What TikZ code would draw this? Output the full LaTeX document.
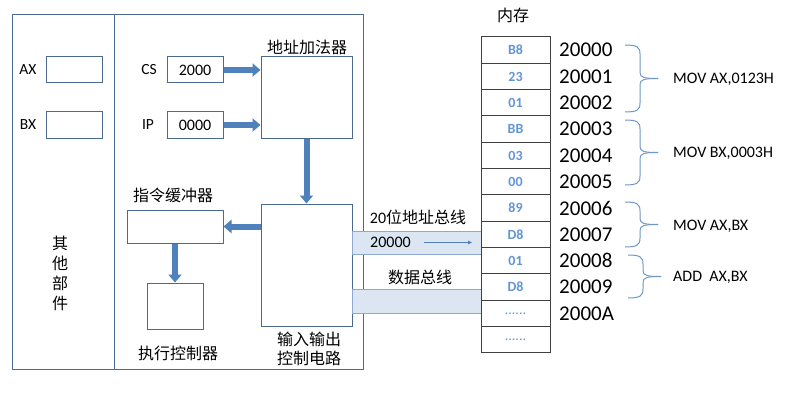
\documentclass[tikz,border=0pt]{standalone}
\usepackage{fontspec}
\setmainfont{Carlito}
\newfontfamily\cjk{Noto Sans CJK SC}
\usetikzlibrary{arrows.meta}
\definecolor{boxc}{HTML}{4A6A90}
\definecolor{arrc}{HTML}{4F81BD}
\definecolor{bandf}{HTML}{DCE6F2}
\definecolor{bandd}{HTML}{8EAAD0}
\definecolor{cellt}{HTML}{6396D6}
\definecolor{brcc}{HTML}{6F98C8}
\newcommand\celldots{{\mdseries\fontsize{14}{16}\selectfont......}}
\newcommand\mybrace[3]{%
  \pgfmathsetmacro\BrMid{(#2+#3)/2}%
  \draw[brc] (#1,#2) .. controls ({#1+12},#2) and ({#1+15},{#2+2}) .. ({#1+15},{#2+9})
     -- ({#1+15},{\BrMid-6}) .. controls ({#1+15},{\BrMid-1}) and ({#1+19},\BrMid) .. ({#1+33},\BrMid);
  \draw[brc] (#1,#3) .. controls ({#1+12},#3) and ({#1+15},{#3-2}) .. ({#1+15},{#3-9})
     -- ({#1+15},{\BrMid+6}) .. controls ({#1+15},{\BrMid+1}) and ({#1+19},\BrMid) .. ({#1+33},\BrMid);
}
\begin{document}
\begin{tikzpicture}[x=1pt,y=-1pt,
  box/.style={draw=boxc,line width=1pt,fill=white,inner sep=0pt},
  reg/.style={box,minimum width=56pt,minimum height=26pt,font=\fontsize{16}{19}\selectfont},
  lbl/.style={inner sep=0pt,font=\fontsize{15.5}{18}\selectfont},
  zh/.style={inner sep=0pt,font=\fontsize{16}{19}\cjk},
  bigarrow/.style={draw=arrc,line width=6pt,-{Triangle[length=8pt,width=13pt]}},
  band/.style={draw=bandd,fill=bandf,line width=0.8pt,inner sep=0pt},
  cell/.style={draw=black!75,line width=1pt,minimum width=69pt,minimum height=26.33pt,inner sep=0pt,text=cellt,font=\fontsize{14}{16}\selectfont\bfseries},
  addr/.style={inner sep=0pt,anchor=west,font=\fontsize{21}{24}\selectfont},
  ins/.style={inner sep=0pt,anchor=west,font=\fontsize{16}{19}\selectfont},
  brc/.style={draw=brcc,line width=1pt}]
\useasboundingbox (0,0) rectangle (805,401);
\fill[white] (0,0) rectangle (805,401);
% outer frame
\draw[boxc,line width=1pt] (12,15) rectangle (363,369);
\draw[boxc,line width=1pt] (114,15) -- (114,369);
% other parts
\node[lbl] (axl) at (28,70) {AX};
\node[reg] (ax) at (74,70) {};
\node[lbl] (bxl) at (28,125) {BX};
\node[reg] (bx) at (74,125) {};
\node[zh,align=center,font=\fontsize{16}{20}\cjk] (other) at (60,273) {其\\他\\部\\件};
% CS / IP
\node[lbl] (csl) at (149,70) {CS};
\node[reg] (cs) at (195,70) {2000};
\node[lbl] (ipl) at (148,125) {IP};
\node[reg] (ip) at (195,125) {0000};
% adder
\node[zh] (adderl) at (307,47) {地址加法器};
\node[box,minimum width=91pt,minimum height=81pt] (adder) at (306.5,97.5) {};
% IO
\node[box,minimum width=91pt,minimum height=122pt] (io) at (306.5,265) {};
\node[zh,align=center,font=\fontsize{16}{18.5}\cjk] (iol) at (309,349) {输入输出\\控制电路};
% buffer
\node[zh] (bufl) at (173,195) {指令缓冲器};
\node[box,minimum width=96pt,minimum height=33pt] (buf) at (175,226.5) {};
% exec
\node[box,minimum width=56pt,minimum height=46pt] (exec) at (175,306) {};
\node[zh] (execl) at (178,353) {执行控制器};
% thick arrows
\draw[bigarrow] (cs.east) -- (adder.west |- cs.east);
\draw[bigarrow] (ip.east) -- (adder.west |- ip.east);
\draw[bigarrow] (adder.south) -- (io.north);
\draw[bigarrow] (io.west |- buf.east) -- (buf.east);
\draw[bigarrow] (buf.south) -- (exec.north);
% buses
\node[band,minimum width=129pt,minimum height=23pt] (abus) at (416.5,242.5) {};
\node[band,minimum width=129pt,minimum height=24pt] (dbus) at (416.5,301) {};
\node[zh] (abusl) at (418,217) {\fontspec{Carlito}20\cjk 位地址总线};
\node[zh] (dbusl) at (420,277) {数据总线};
\node[lbl,font=\fontsize{16}{19}\selectfont] (aval) at (390.5,242.5) {20000};
\coordinate (t1) at (424,242.5);
\coordinate (t2) at (472,242.5);
\draw[arrc,line width=0.8pt,-{Triangle[length=4pt,width=3.5pt]}] (t1) -- (t2);
% memory
\node[zh] (meml) at (513,15) {内存};
\foreach \t [count=\i] in {B8,23,01,BB,03,00,89,D8,01,D8,\celldots,\celldots}
  \node[cell] (m\i) at (515.5,{37+26.33*(\i-0.5)}) {\t};
\foreach \a [count=\i] in {20000,20001,20002,20003,20004,20005,20006,20007,20008,20009,2000A}
  \node[addr] (ad\i) at (559,{37+26.33*(\i-0.5)}) {\a};
% braces
\mybrace{625}{45}{112}
\mybrace{625}{120}{185}
\mybrace{625}{202}{247}
\mybrace{628}{255}{298}
\node[ins] (i1) at (673,79) {MOV AX,0123H};
\node[ins] (i2) at (673,153) {MOV BX,0003H};
\node[ins] (i3) at (673,226) {MOV AX,BX};
\node[ins] (i4) at (673,277) {ADD\ \ AX,BX};
\end{tikzpicture}
\end{document}
